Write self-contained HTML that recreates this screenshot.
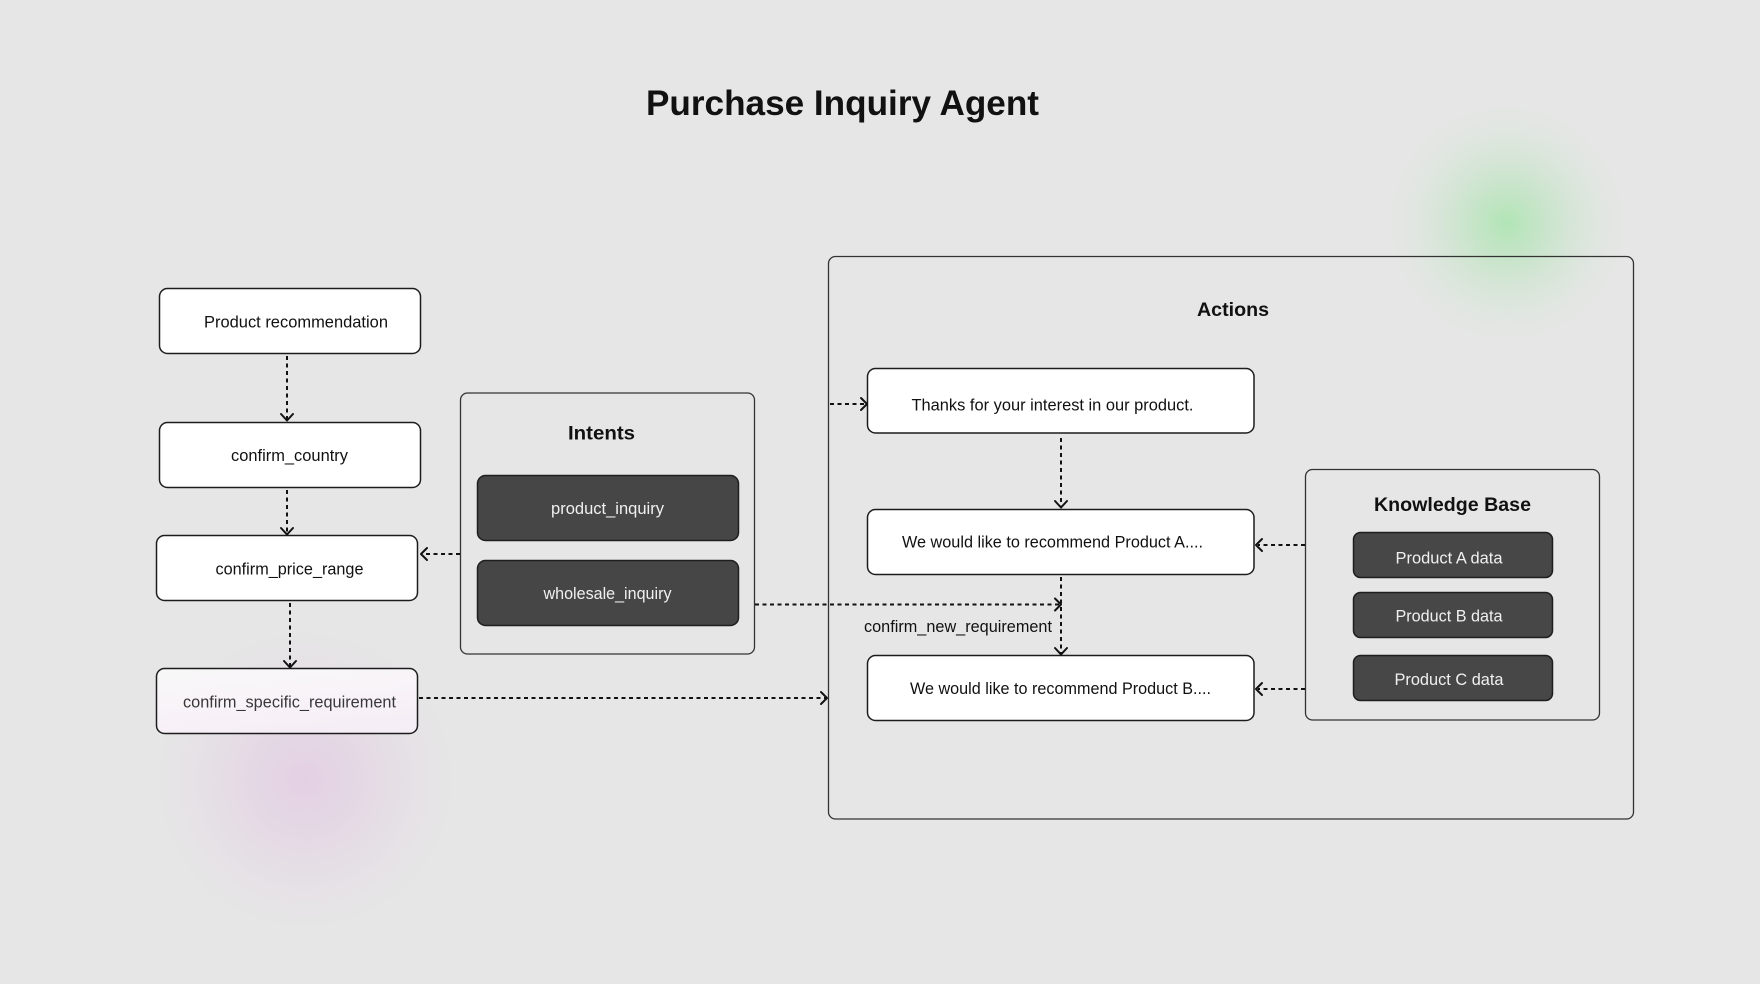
<!DOCTYPE html>
<html>
<head>
<meta charset="utf-8">
<style>
  html,body{margin:0;padding:0;background:#e6e6e6;}
  body{width:1760px;height:984px;overflow:hidden;}
  svg{display:block;}
  text{font-family:"Liberation Sans", Arial, sans-serif;}
</style>
</head>
<body>
<svg width="1760" height="984" viewBox="0 0 1760 984" xmlns="http://www.w3.org/2000/svg">
  <defs>
    <radialGradient id="gGreen" cx="50%" cy="50%" r="50%">
      <stop offset="0%" stop-color="#aee5b2" stop-opacity="0.95"/>
      <stop offset="30%" stop-color="#bde4c0" stop-opacity="0.7"/>
      <stop offset="62%" stop-color="#d2e5d3" stop-opacity="0.45"/>
      <stop offset="100%" stop-color="#e6e6e6" stop-opacity="0"/>
    </radialGradient>
    <radialGradient id="gPink" cx="50%" cy="50%" r="50%">
      <stop offset="0%" stop-color="#e3cfe4" stop-opacity="0.95"/>
      <stop offset="35%" stop-color="#e4d4e4" stop-opacity="0.75"/>
      <stop offset="70%" stop-color="#e5dde5" stop-opacity="0.45"/>
      <stop offset="100%" stop-color="#e6e6e6" stop-opacity="0"/>
    </radialGradient>
    <linearGradient id="gSpec" x1="0" y1="0" x2="0.4" y2="1">
      <stop offset="0%" stop-color="#f8f8f8"/>
      <stop offset="60%" stop-color="#f8f3f8"/>
      <stop offset="100%" stop-color="#f6eef6"/>
    </linearGradient>
  </defs>

  <rect x="0" y="0" width="1760" height="984" fill="#e6e6e6"/>

  <!-- glows -->
  <circle cx="1507" cy="223" r="135" fill="url(#gGreen)"/>
  <circle cx="305" cy="780" r="165" fill="url(#gPink)"/>

  <!-- Title -->
  <text x="646" y="115" font-size="35" font-weight="bold" fill="#111" textLength="393" lengthAdjust="spacingAndGlyphs">Purchase Inquiry Agent</text>

  <!-- Left column nodes -->
  <g stroke="#1c1c1c" stroke-width="1.5">
    <rect x="159.5" y="288.5" width="261" height="65" rx="8" fill="#ffffff"/>
    <rect x="159.5" y="422.5" width="261" height="65" rx="8" fill="#ffffff"/>
    <rect x="156.5" y="535.5" width="261" height="65" rx="8" fill="#ffffff"/>
    <rect x="156.5" y="668.5" width="261" height="65" rx="8" fill="url(#gSpec)"/>
  </g>
  <g font-size="16.5" fill="#111">
    <text x="204" y="327.5" textLength="184" lengthAdjust="spacingAndGlyphs">Product recommendation</text>
    <text x="231" y="461" textLength="117" lengthAdjust="spacingAndGlyphs">confirm_country</text>
    <text x="215.5" y="574.5" textLength="148" lengthAdjust="spacingAndGlyphs">confirm_price_range</text>
    <text x="183" y="707.5" textLength="213" lengthAdjust="spacingAndGlyphs" fill="#383838">confirm_specific_requirement</text>
  </g>

  <!-- Intents container -->
  <rect x="460.5" y="393" width="294" height="261" rx="7" fill="none" stroke="#333" stroke-width="1.3"/>
  <text x="568" y="439.5" font-size="19.5" font-weight="bold" fill="#111" textLength="67" lengthAdjust="spacingAndGlyphs">Intents</text>
  <g stroke="#1e1e1e" stroke-width="1.5" fill="#464646">
    <rect x="477.5" y="475.5" width="261" height="65" rx="8"/>
    <rect x="477.5" y="560.5" width="261" height="65" rx="8"/>
  </g>
  <g font-size="16.5" fill="#f0f0f0">
    <text x="551" y="514" textLength="113" lengthAdjust="spacingAndGlyphs">product_inquiry</text>
    <text x="543.5" y="599" textLength="128" lengthAdjust="spacingAndGlyphs">wholesale_inquiry</text>
  </g>

  <!-- Actions container -->
  <rect x="828.5" y="256.5" width="805" height="562.5" rx="7" fill="none" stroke="#333" stroke-width="1.3"/>
  <text x="1197" y="316" font-size="19.5" font-weight="bold" fill="#111" textLength="72" lengthAdjust="spacingAndGlyphs">Actions</text>

  <g stroke="#1c1c1c" stroke-width="1.5" fill="#ffffff">
    <rect x="867.5" y="368.5" width="386.5" height="64.5" rx="8"/>
    <rect x="867.5" y="509.5" width="386.5" height="65" rx="8"/>
    <rect x="867.5" y="655.5" width="386.5" height="65" rx="8"/>
  </g>
  <g font-size="16.5" fill="#111">
    <text x="911.5" y="410.5" textLength="282" lengthAdjust="spacingAndGlyphs">Thanks for your interest in our product.</text>
    <text x="902" y="547.5" textLength="301" lengthAdjust="spacingAndGlyphs">We would like to recommend Product A....</text>
    <text x="910" y="694" textLength="301" lengthAdjust="spacingAndGlyphs">We would like to recommend Product B....</text>
    <text x="864" y="632" textLength="188" lengthAdjust="spacingAndGlyphs">confirm_new_requirement</text>
  </g>

  <!-- Knowledge Base -->
  <rect x="1305.5" y="469.5" width="294" height="250.5" rx="7" fill="none" stroke="#333" stroke-width="1.3"/>
  <text x="1374" y="511" font-size="19.5" font-weight="bold" fill="#111" textLength="157" lengthAdjust="spacingAndGlyphs">Knowledge Base</text>
  <g stroke="#1e1e1e" stroke-width="1.5" fill="#474747">
    <rect x="1353.5" y="532.5" width="199" height="45" rx="7"/>
    <rect x="1353.5" y="592.5" width="199" height="45" rx="7"/>
    <rect x="1353.5" y="655.5" width="199" height="45" rx="7"/>
  </g>
  <g font-size="16.5" fill="#f0f0f0">
    <text x="1395.5" y="563.5" textLength="107" lengthAdjust="spacingAndGlyphs">Product A data</text>
    <text x="1395.5" y="621.5" textLength="107" lengthAdjust="spacingAndGlyphs">Product B data</text>
    <text x="1394.5" y="685" textLength="109" lengthAdjust="spacingAndGlyphs">Product C data</text>
  </g>

  <!-- Connectors -->
  <g stroke="#111" stroke-width="2" fill="none" stroke-dasharray="4 3.5">
    <line x1="287" y1="356" x2="287" y2="419"/>
    <line x1="287" y1="490" x2="287" y2="533"/>
    <line x1="290" y1="603" x2="290" y2="666"/>
    <line x1="460" y1="554" x2="422" y2="554"/>
    <line x1="755" y1="604.5" x2="1059" y2="604.5"/>
    <line x1="419" y1="698" x2="826" y2="698"/>
    <line x1="830" y1="404" x2="865" y2="404"/>
    <line x1="1061" y1="438" x2="1061" y2="506"/>
    <line x1="1061" y1="577" x2="1061" y2="653"/>
    <line x1="1305" y1="545" x2="1258" y2="545"/>
    <line x1="1305" y1="689" x2="1258" y2="689"/>
  </g>
  <!-- Arrowheads (open chevrons) -->
  <g stroke="#111" stroke-width="2" fill="none" stroke-linecap="round" stroke-linejoin="round">
    <polyline points="281,414 287,420.5 293,414"/>
    <polyline points="281,528 287,534.5 293,528"/>
    <polyline points="284,661 290,667.5 296,661"/>
    <polyline points="427,548 421,554 427,560"/>
    <polyline points="1055,598.5 1061,604.5 1055,610.5"/>
    <polyline points="821,692 827,698 821,704"/>
    <polyline points="861,398 867,404 861,410"/>
    <polyline points="1055,501 1061,507.5 1067,501"/>
    <polyline points="1055,648 1061,654.5 1067,648"/>
    <polyline points="1262,539 1256,545 1262,551"/>
    <polyline points="1262,683 1256,689 1262,695"/>
  </g>
</svg>
</body>
</html>
